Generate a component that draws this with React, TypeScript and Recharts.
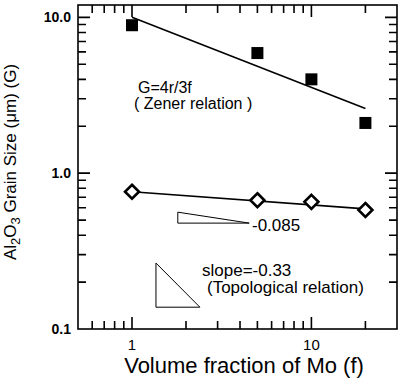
import React from 'react';
import { ComposedChart, Scatter, XAxis, YAxis } from 'recharts';

// ---- data (log-log) ----
const zenerF = [1, 5, 10, 20];
const zenerG = [8.9, 5.9, 4.0, 2.1];
const zenerFitF = [1, 20];
const zenerFitG = [10.0, 2.6];
const topoF = [1, 5, 10, 20];
const topoG = [0.76, 0.67, 0.655, 0.58];
const topoFitF = [1, 20];
const topoFitG = [0.76, 0.59];
const tri1F = [1.8, 1.8, 4.5, 1.8];
const tri1G = [0.562, 0.478, 0.478, 0.562];
const tri2F = [1.36, 1.36, 2.39, 1.36];
const tri2G = [0.265, 0.138, 0.138, 0.265];

// ---- axes ----
const xDomain = [0.5, 30];
const yDomain = [0.1, 12];
const xMajor = [1, 10];
const xMinor = [0.6, 0.7, 0.8, 0.9, 2, 3, 4, 5, 6, 7, 8, 9, 20];
const yMajor = [1, 10];
const yMinor = [0.2, 0.3, 0.4, 0.5, 0.6, 0.7, 0.8, 0.9, 2, 3, 4, 5, 6, 7, 8, 9];
const xLabelTicks = [1, 10];
const yLabelTicks = [0.1, 1, 10];
const xTickLabels: Record<string, string> = { '1': '1', '10': '10' };
const yTickLabels: Record<string, string> = { '0.1': '0.1', '1': '1.0', '10': '10.0' };

const pts = (xs: number[], ys: number[]) => xs.map((x, i) => ({ x, y: ys[i] }));
const zenerData = pts(zenerF, zenerG);
const zenerFit = pts(zenerFitF, zenerFitG);
const topoData = pts(topoF, topoG);
const topoFit = pts(topoFitF, topoFitG);
const tri1 = pts(tri1F, tri1G);
const tri2 = pts(tri2F, tri2G);

const FONT = '"Liberation Sans", Arial, Helvetica, sans-serif';
const MAJ = 12;
const MIN = 8;

// plot box edges (set by the chart margins below)
const PL = 78;
const PR = 397;
const PT = 5;
const PB = 329;

// log positions matching the chart's log axes, used only for the frame tick marks
const lg = Math.log10;
const xPix = (v: number) => PL + ((lg(v) - lg(xDomain[0])) / (lg(xDomain[1]) - lg(xDomain[0]))) * (PR - PL);
const yPix = (v: number) => PB - ((lg(v) - lg(yDomain[0])) / (lg(yDomain[1]) - lg(yDomain[0]))) * (PB - PT);

const tickPath = [
  ...xMajor.map((v) => ({ v, len: MAJ })),
  ...xMinor.map((v) => ({ v, len: MIN })),
]
  .map(({ v, len }) => {
    const x = xPix(v);
    return `M${x},${PB} L${x},${PB - len} M${x},${PT} L${x},${PT + len}`;
  })
  .concat(
    [...yMajor.map((v) => ({ v, len: MAJ })), ...yMinor.map((v) => ({ v, len: MIN }))].map(({ v, len }) => {
      const y = yPix(v);
      return `M${PL},${y} L${PL + len},${y} M${PR},${y} L${PR - len},${y}`;
    })
  )
  .join(' ');

const labelBottom = (props: any) => {
  const { x, payload } = props;
  const lab = xTickLabels[String(payload.value)];
  if (!lab) return <g />;
  return (
    <text x={x} y={PB + 21} textAnchor="middle" fontSize={15} fontFamily={FONT} fill="#000">
      {lab}
    </text>
  );
};
const labelLeft = (props: any) => {
  const { y, payload } = props;
  const lab = yTickLabels[String(payload.value)];
  if (!lab) return <g />;
  return (
    <text x={PL - 7} y={y + 5} textAnchor="end" fontSize={14} fontFamily={FONT} fontWeight="bold" fill="#000">
      {lab}
    </text>
  );
};

const squareShape = (p: any) => (
  <rect x={p.cx - 6} y={p.cy - 6} width={12} height={12} fill="#000" />
);
const diamondShape = (p: any) => (
  <path
    d={`M${p.cx},${p.cy - 7} L${p.cx + 7},${p.cy} L${p.cx},${p.cy + 7} L${p.cx - 7},${p.cy} Z`}
    fill="#fff"
    stroke="#000"
    strokeWidth={2.6}
    strokeLinejoin="miter"
  />
);
const noShape = () => <g />;

export default function App() {
  return (
    <div style={{ position: 'absolute', left: 0, top: 0, width: 406, height: 380, background: '#fff' }}>
      <ComposedChart width={406} height={380} margin={{ top: PT, right: 406 - PR, bottom: 0, left: 0 }}>
        <XAxis
          dataKey="x"
          type="number"
          scale="log"
          domain={xDomain}
          ticks={xLabelTicks}
          interval={0}
          tick={labelBottom}
          tickLine={false}
          axisLine={false}
          height={380 - PB}
        />
        <YAxis
          dataKey="y"
          type="number"
          scale="log"
          domain={yDomain}
          ticks={yLabelTicks}
          interval={0}
          tick={labelLeft}
          tickLine={false}
          axisLine={false}
          width={PL}
        />
        <Scatter data={zenerFit} line={{ stroke: '#000', strokeWidth: 1.6 }} shape={noShape} isAnimationActive={false} />
        <Scatter data={zenerData} shape={squareShape} isAnimationActive={false} />
        <Scatter data={topoFit} line={{ stroke: '#000', strokeWidth: 1.6 }} shape={noShape} isAnimationActive={false} />
        <Scatter data={topoData} shape={diamondShape} isAnimationActive={false} />
        <Scatter data={tri1} line={{ stroke: '#000', strokeWidth: 1 }} shape={noShape} isAnimationActive={false} />
        <Scatter data={tri2} line={{ stroke: '#000', strokeWidth: 1 }} shape={noShape} isAnimationActive={false} />
      </ComposedChart>
      <svg
        width={406}
        height={380}
        style={{ position: 'absolute', left: 0, top: 0, pointerEvents: 'none' }}
        fontFamily={FONT}
      >
        <rect x={PL} y={PT} width={PR - PL} height={PB - PT} fill="none" stroke="#000" strokeWidth={1.6} />
        <path d={tickPath} fill="none" stroke="#000" strokeWidth={1.6} />
        <text x={138} y={93} fontSize={16} fill="#000">G=4r/3f</text>
        <text x={134} y={109} fontSize={16} fill="#000" xmlSpace="preserve">( Zener relation )</text>
        <text x={252} y={231} fontSize={17} fill="#000">-0.085</text>
        <text x={202} y={276} fontSize={17} fill="#000">slope=-0.33</text>
        <text x={207} y={293} fontSize={17} fill="#000">(Topological relation)</text>
        <text x={244} y={373} fontSize={22} textAnchor="middle" fill="#000">Volume fraction of Mo (f)</text>
        <text x={16} y={162} fontSize={17} textAnchor="middle" fill="#000" transform="rotate(-90, 16, 162)">
          Al<tspan fontSize={13} dy={4}>2</tspan><tspan dy={-4}>O</tspan><tspan fontSize={13} dy={4}>3</tspan>
          <tspan dy={-4}> Grain Size (μm) (G)</tspan>
        </text>
      </svg>
    </div>
  );
}
